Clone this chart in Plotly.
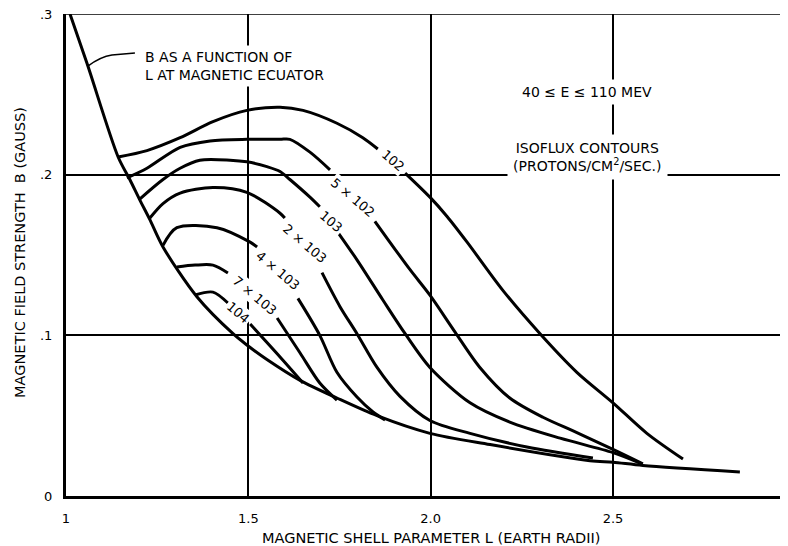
import plotly.graph_objects as go

# ---- data ----
eq_L = [1.011, 1.058, 1.143, 1.175, 1.203, 1.230, 1.266, 1.359, 1.458, 1.496, 1.551, 1.642, 1.743, 1.853, 1.998, 2.163, 2.437, 2.500, 2.582, 2.848]
eq_B = [0.300, 0.269, 0.211, 0.197, 0.184, 0.172, 0.155, 0.124, 0.101, 0.094, 0.085, 0.072, 0.061, 0.050, 0.039, 0.032, 0.022, 0.021, 0.019, 0.015]

c1_L = [1.143, 1.222, 1.313, 1.403, 1.496, 1.587, 1.650, 1.743, 1.814, 1.855, None, 1.930, 1.998, 2.045, 2.100, 2.198, 2.300, 2.401, 2.500, 2.593, 2.692]
c1_B = [0.211, 0.215, 0.223, 0.233, 0.240, 0.242, 0.240, 0.232, 0.223, 0.216, None, 0.201, 0.186, 0.174, 0.158, 0.128, 0.101, 0.077, 0.058, 0.039, 0.023]

c2_L = [1.167, 1.222, 1.313, 1.395, 1.496, 1.587, 1.614, 1.669, 1.724, None, 1.847, 1.943, 1.998, 2.067, 2.135, 2.217, 2.308, 2.401, 2.500, 2.582]
c2_B = [0.198, 0.204, 0.217, 0.221, 0.222, 0.222, 0.222, 0.214, 0.203, None, 0.171, 0.141, 0.125, 0.102, 0.080, 0.061, 0.049, 0.0395, 0.029, 0.020]

c3_L = [1.203, 1.266, 1.313, 1.367, 1.450, 1.496, 1.551, 1.587, 1.614, 1.669, 1.696, None, 1.746, 1.798, 1.869, 1.930, 1.998, 2.108, 2.217, 2.355, 2.500, 2.574]
c3_B = [0.185, 0.197, 0.204, 0.209, 0.209, 0.208, 0.205, 0.202, 0.197, 0.186, 0.180, None, 0.164, 0.147, 0.122, 0.101, 0.080, 0.058, 0.046, 0.036, 0.027, 0.0205]

c4_L = [1.230, 1.266, 1.313, 1.403, 1.496, 1.587, 1.600, None, 1.702, 1.751, 1.798, 1.853, 1.916, 1.998, 2.108, 2.264, 2.445]
c4_B = [0.173, 0.182, 0.1885, 0.192, 0.189, 0.176, 0.173, None, 0.139, 0.118, 0.101, 0.080, 0.062, 0.047, 0.039, 0.0305, 0.0236]

c5_L = [1.266, 1.304, 1.414, 1.505, 1.524, None, 1.636, 1.696, 1.743, 1.798, 1.842, 1.875]
c5_B = [0.156, 0.167, 0.167, 0.158, 0.155, None, 0.123, 0.100, 0.077, 0.0616, 0.0523, 0.0473]

c6_L = [1.304, 1.354, 1.403, 1.444, None, 1.579, 1.642, 1.696, 1.743]
c6_B = [0.1425, 0.1437, 0.1437, 0.1388, None, 0.1108, 0.0890, 0.0703, 0.0597]

c7_L = [1.354, 1.403, 1.444, None, 1.505, 1.587, 1.650]
c7_B = [0.1251, 0.1269, 0.1201, None, 0.1070, 0.0865, 0.0703]

contour_labels = ["102", "5 \u00d7 102", "103", "2 \u00d7 103", "4 \u00d7 103", "7 \u00d7 103", "104"]
label_L = [1.897, 1.787, 1.727, 1.655, 1.581, 1.518, 1.472]
label_B = [0.2091, 0.1861, 0.1711, 0.1574, 0.1406, 0.1251, 0.1145]

x_ticks = [1, 1.5, 2.0, 2.5]
x_ticktext = ["1", "1.5", "2.0", "2.5"]
y_ticks = [0, 0.1, 0.2, 0.3]
y_ticktext = ["0", ".1", ".2", ".3"]

FONT = "DejaVu Sans"

fig = go.Figure()
line_style = dict(color="black", width=3, shape="spline", smoothing=0.85)
for Ls, Bs in [(eq_L, eq_B), (c1_L, c1_B), (c2_L, c2_B), (c3_L, c3_B), (c4_L, c4_B),
               (c5_L, c5_B), (c6_L, c6_B), (c7_L, c7_B)]:
    fig.add_trace(go.Scatter(x=Ls, y=Bs, mode="lines", line=line_style,
                             connectgaps=False, hoverinfo="skip"))

annotations = []
for txt, lx, by in zip(contour_labels, label_L, label_B):
    annotations.append(dict(x=lx, y=by, text=txt, showarrow=False, textangle=40,
                            font=dict(family=FONT, size=13, color="black"),
                            bgcolor="white", borderpad=1,
                            xanchor="center", yanchor="middle"))

annotations += [
    dict(x=1.206, y=0.2676, text="B AS A FUNCTION OF<br>L AT MAGNETIC ECUATOR", align="left",
         showarrow=False, xanchor="left", yanchor="middle", bgcolor="white", borderpad=3,
         font=dict(family=FONT, size=14, color="black")),
    dict(x=2.429, y=0.2514, text="40 \u2264 E \u2264 110 MEV", showarrow=False,
         xanchor="center", yanchor="middle", bgcolor="white", borderpad=4,
         font=dict(family=FONT, size=14, color="black")),
    dict(x=2.431, y=0.2110,
         text="ISOFLUX CONTOURS<br>(PROTONS/CM<sup>2</sup>/SEC.)",
         showarrow=False, xanchor="center", yanchor="middle", bgcolor="white", borderpad=5,
         font=dict(family=FONT, size=14, color="black")),
    dict(x=0.506, y=-0.087, xref="paper", yref="paper",
         text="MAGNETIC SHELL PARAMETER L (EARTH RADII)", showarrow=False,
         xanchor="center", yanchor="middle", font=dict(family=FONT, size=14.5, color="black")),
    dict(x=-0.064, y=0.506, xref="paper", yref="paper",
         text="MAGNETIC FIELD STRENGTH  B (GAUSS)", showarrow=False, textangle=-90,
         xanchor="center", yanchor="middle", font=dict(family=FONT, size=14.5, color="black")),
]

shapes = [
    dict(type="line", xref="paper", x0=0, x1=1, yref="y", y0=0.3, y1=0.3,
         line=dict(color="black", width=1.5), layer="below"),
    dict(type="path", xref="x", yref="y",
         path="M 1.060 0.2676 Q 1.095 0.2735 1.126 0.2745 L 1.189 0.2757",
         line=dict(color="black", width=1.5)),
]

# The page body adds an 8 px offset, so the figure is 8 px smaller and margins shifted.
fig.update_layout(
    width=780, height=538,
    margin=dict(l=58, r=0, t=6, b=50),
    plot_bgcolor="white", paper_bgcolor="white",
    showlegend=False,
    font=dict(family=FONT, size=13, color="black"),
    annotations=annotations,
    shapes=shapes,
    xaxis=dict(range=[1, 2.98], tickvals=x_ticks, ticktext=x_ticktext,
               showgrid=True, gridcolor="black", gridwidth=1.5,
               showline=True, linecolor="black", linewidth=3,
               zeroline=False, ticks="", ticklabelstandoff=8,
               ticklabeloverflow="allow",
               tickfont=dict(family=FONT, size=13, color="black")),
    yaxis=dict(range=[0, 0.3], tickvals=y_ticks, ticktext=y_ticktext,
               showgrid=True, gridcolor="black", gridwidth=1.5,
               showline=True, linecolor="black", linewidth=3,
               zeroline=False, ticks="", ticklabelstandoff=8,
               ticklabeloverflow="allow",
               tickfont=dict(family=FONT, size=13, color="black")),
)

fig.write_html("out.html")
